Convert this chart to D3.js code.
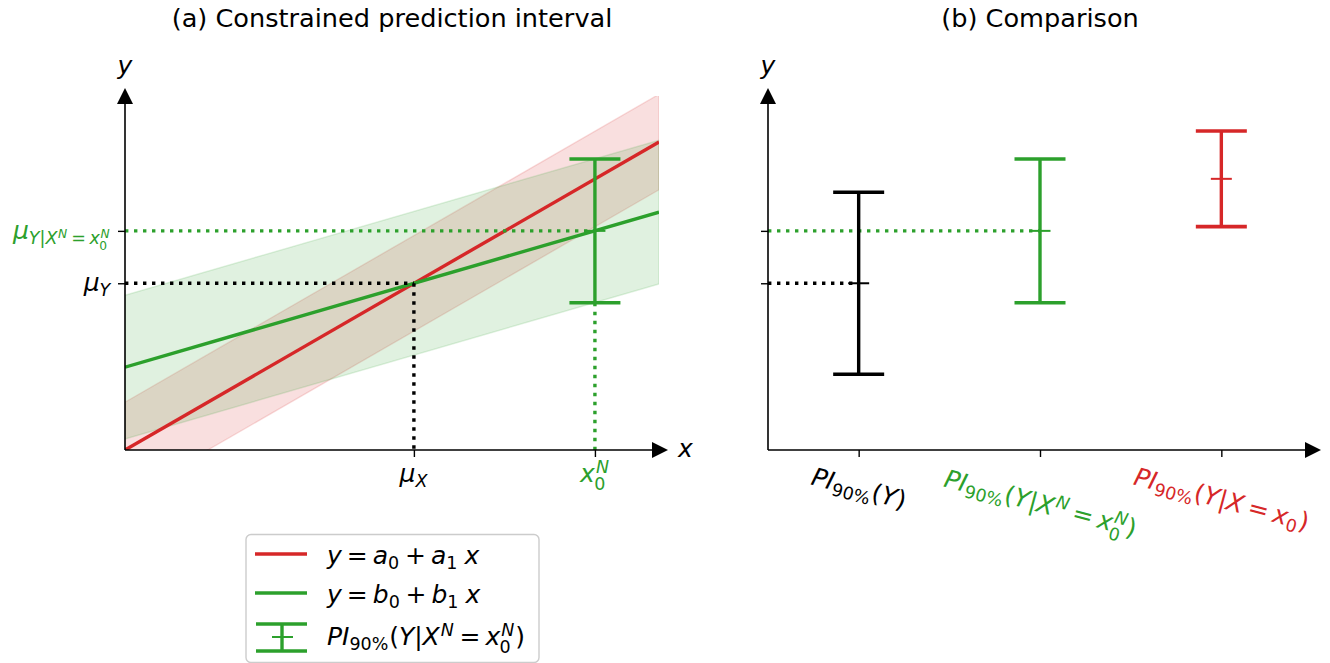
<!DOCTYPE html>
<html><head><meta charset="utf-8">
<script src="https://cdn.jsdelivr.net/npm/d3@7"></script>
<style>
body{margin:0;background:#fff}
svg{display:block}
text{font-family:"DejaVu Sans",sans-serif}
</style>
</head><body>
<svg id="c" width="1330" height="663"></svg>
<script>
const FS = 25;
const TITLE_FS = 25.6;
const RED = "#d62728", GREEN = "#2ca02c", BLACK = "#000000";

// ---------------- data ----------------
const lineX = [0, 10];
const redLineY = [0.0, 8.70];      // y = a0 + a1 x
const greenLineY = [2.34, 6.72];   // y = b0 + b1 x
const redBandHalf = [1.35, 1.35];
const greenBandHalf = [2.03, 2.03];
const markX = [5.41, 8.80];        // mu_X, x0^N
const markY = [4.71, 6.19];        // mu_Y, mu_{Y|X^N=x0^N}
const leftXTickLabels = ["\\mu_X", "x_0^N"];
const leftYTickLabels = ["\\mu_Y", "\\mu_{Y|X^N=x_0^N}"];
const cmpCats = [0, 1, 2];
const cmpCenters = [4.71, 6.19, 7.66];
const cmpHalf = [2.57, 2.03, 1.35];
const cmpColors = [BLACK, GREEN, RED];
const cmpLabels = ["PI_{90\\%}(Y)", "PI_{90\\%}(Y|X^N=x_0^N)", "PI_{90\\%}(Y|X=x_0)"];
const legendLabels = ["y=a_0+a_1\\ x", "y=b_0+b_1\\ x", "PI_{90\\%}(Y|X^N=x_0^N)"];
const titles = ["(a) Constrained prediction interval", "(b) Comparison"];

// ---------------- scales ----------------
const xA = d3.scaleLinear([0, 10], [125, 659]);
const yS = d3.scaleLinear([0, 10], [450, 96]);
const xB = d3.scaleLinear([-0.5, 2.5], [768, 1312]);

const svg = d3.select("#c");

// ---------------- mini math renderer ----------------
function parseTex(s) {
  let i = 0;
  function atom() {
    const c = s[i];
    if (c === "{") { i++; const g = seq("}"); i++; return { g }; }
    if (c === "\\") {
      i++;
      let name = "";
      while (i < s.length && /[a-zA-Z]/.test(s[i])) name += s[i++];
      if (!name) name = s[i++];
      if (name === "mu") return { ch: "\u03bc", it: true };
      if (name === "%") return { ch: "%", it: false };
      if (name === ",") return { sp: 0.17 };
      if (name === " ") return { sp: 0.25 };
      return { ch: name, it: false };
    }
    i++;
    if (/[a-zA-Z]/.test(c)) return { ch: c, it: true };
    if (c === "=" || c === "+") return { ch: c, it: false, op: true };
    return { ch: c, it: false };
  }
  function seq(end) {
    const out = [];
    while (i < s.length && s[i] !== end) {
      if (s[i] === " ") { i++; continue; }
      if (s[i] === "_" || s[i] === "^") {
        const k = s[i]; i++;
        const a = atom();
        const last = out[out.length - 1];
        if (k === "_") last.sub = a; else last.sup = a;
        continue;
      }
      out.push(atom());
    }
    return out;
  }
  return seq(undefined);
}

function renderMath(parent, tex, fs, color) {
  const g = parent.append("g").attr("fill", color);
  const nodes = parseTex(tex);
  function put(t, size, it, x, base) {
    const el = g.append("text").attr("font-size", size)
      .attr("font-style", it ? "italic" : "normal")
      .attr("x", x).attr("y", base).text(t);
    return el.node().getComputedTextLength();
  }
  function lay(list, x, base, size) {
    for (const n of list) {
      if (n.sp != null) { x += n.sp * size; continue; }
      if (n.op) x += 0.2 * size;
      if (n.g) x = lay(n.g, x, base, size);
      else x += put(n.ch, size, n.it, x, base);
      if (n.sub || n.sup) {
        const ss = size * 0.7;
        const both = n.sub && n.sup;
        let xe = x;
        if (n.sup) {
          const e = lay([n.sup], x + (n.it ? 0.04 * size : 0), base - 0.36 * size, ss);
          xe = Math.max(xe, e);
        }
        if (n.sub) {
          const e = lay([n.sub], x - (n.it && both ? 0.03 * size : 0), base + (both ? 0.33 : 0.2) * size, ss);
          xe = Math.max(xe, e);
        }
        x = xe + 0.03 * size;
      }
      if (n.op) x += 0.2 * size;
    }
    return x;
  }
  const w = lay(nodes, 0, 0, fs);
  return { g, w };
}

// ---------------- helpers ----------------
function dotted(g, x1, y1, x2, y2, color) {
  g.append("line").attr("x1", x1).attr("y1", y1).attr("x2", x2).attr("y2", y2)
    .attr("stroke", color).attr("stroke-width", 3.4).attr("stroke-dasharray", "3.4 5.6");
}
function errbar(g, cx, yc, half, color) {
  const top = yS(yc + half), bot = yS(yc - half), mid = yS(yc);
  g.append("line").attr("x1", cx).attr("x2", cx).attr("y1", top).attr("y2", bot)
    .attr("stroke", color).attr("stroke-width", 3.4);
  [top, bot].forEach(v => g.append("line").attr("x1", cx - 25.5).attr("x2", cx + 25.5)
    .attr("y1", v).attr("y2", v).attr("stroke", color).attr("stroke-width", 3.6));
  g.append("line").attr("x1", cx - 10.5).attr("x2", cx + 10.5).attr("y1", mid).attr("y2", mid)
    .attr("stroke", color).attr("stroke-width", 2);
}
function spines(g, x0, x1, yBot, yTop) {
  g.append("line").attr("x1", x0).attr("x2", x0).attr("y1", yBot).attr("y2", yTop + 6)
    .attr("stroke", "#000").attr("stroke-width", 1.6);
  g.append("line").attr("x1", x0).attr("x2", x1 - 6).attr("y1", yBot).attr("y2", yBot)
    .attr("stroke", "#000").attr("stroke-width", 1.6);
  g.append("path").attr("d", `M${x0},${yTop - 8} L${x0 - 8},${yTop + 8} L${x0 + 8},${yTop + 8} Z`).attr("fill", "#000");
  g.append("path").attr("d", `M${x1 + 9},${yBot} L${x1 - 7},${yBot - 8} L${x1 - 7},${yBot + 8} Z`).attr("fill", "#000");
}

// ---------------- panel (a) ----------------
const gA = svg.append("g");
svg.append("defs").append("clipPath").attr("id", "clipA").append("rect")
  .attr("x", 125).attr("y", 96).attr("width", 534).attr("height", 354);
const gAc = gA.append("g").attr("clip-path", "url(#clipA)");

const bandRed = lineX.map((x, i) => ({ x, lo: redLineY[i] - redBandHalf[i], hi: redLineY[i] + redBandHalf[i] }));
const bandGreen = lineX.map((x, i) => ({ x, lo: greenLineY[i] - greenBandHalf[i], hi: greenLineY[i] + greenBandHalf[i] }));
const area = d3.area().x(d => xA(d.x)).y0(d => yS(d.lo)).y1(d => yS(d.hi));
gAc.append("path").datum(bandRed).attr("d", area).attr("fill", RED).attr("fill-opacity", 0.15)
  .attr("stroke", RED).attr("stroke-opacity", 0.15).attr("stroke-width", 1.4);
gAc.append("path").datum(bandGreen).attr("d", area).attr("fill", GREEN).attr("fill-opacity", 0.15)
  .attr("stroke", GREEN).attr("stroke-opacity", 0.15).attr("stroke-width", 1.4);

const line = d3.line().x(d => xA(d[0])).y(d => yS(d[1]));
gAc.append("path").datum(lineX.map((x, i) => [x, redLineY[i]])).attr("d", line)
  .attr("stroke", RED).attr("stroke-width", 3.4).attr("fill", "none");
gAc.append("path").datum(lineX.map((x, i) => [x, greenLineY[i]])).attr("d", line)
  .attr("stroke", GREEN).attr("stroke-width", 3.4).attr("fill", "none");

// guide lines
dotted(gA, xA(0), yS(markY[0]), xA(markX[0]), yS(markY[0]), BLACK);
dotted(gA, xA(markX[0]), yS(markY[0]), xA(markX[0]), yS(0), BLACK);
dotted(gA, xA(0), yS(markY[1]), xA(markX[1]), yS(markY[1]), GREEN);
dotted(gA, xA(markX[1]), yS(markY[1] - greenBandHalf[1]), xA(markX[1]), yS(0), GREEN);

errbar(gA, xA(markX[1]), markY[1], greenBandHalf[1], GREEN);

// axes ticks
const axA_x = gA.append("g").attr("transform", "translate(0,450)")
  .call(d3.axisBottom(xA).tickValues(markX).tickSize(7).tickFormat(""));
const axA_y = gA.append("g").attr("transform", "translate(125,0)")
  .call(d3.axisLeft(yS).tickValues(markY).tickSize(7).tickFormat(""));
[axA_x, axA_y].forEach(a => { a.select(".domain").remove(); a.selectAll("line").attr("stroke-width", 1.4); });
spines(gA, 125, 659, 450, 96);

// tick labels
leftXTickLabels.forEach((t, i) => {
  const h = gA.append("g");
  const m = renderMath(h, t, FS, i === 0 ? BLACK : GREEN);
  h.attr("transform", `translate(${xA(markX[i]) - m.w / 2},482)`);
});
leftYTickLabels.forEach((t, i) => {
  const h = gA.append("g");
  const m = renderMath(h, t, FS, i === 0 ? BLACK : GREEN);
  h.attr("transform", `translate(${111 - m.w},${yS(markY[i]) + 8})`);
});
gA.append("text").attr("x", 125).attr("y", 74).attr("text-anchor", "middle")
  .attr("font-size", FS).attr("font-style", "italic").text("y");
gA.append("text").attr("x", 678).attr("y", 457)
  .attr("font-size", FS).attr("font-style", "italic").text("x");
gA.append("text").attr("x", 392).attr("y", 27).attr("text-anchor", "middle")
  .attr("font-size", TITLE_FS).text(titles[0]);

// legend
const gL = svg.append("g");
gL.append("rect").attr("x", 246).attr("y", 534.5).attr("width", 293).attr("height", 128)
  .attr("rx", 5).attr("fill", "#fff").attr("fill-opacity", 0.8)
  .attr("stroke", "#cccccc").attr("stroke-width", 1.4);
const legColors = [RED, GREEN, GREEN];
const legRowY = [554, 593, 637];
legendLabels.forEach((t, i) => {
  const yy = legRowY[i];
  if (i < 2) {
    gL.append("line").attr("x1", 255).attr("x2", 307).attr("y1", yy).attr("y2", yy)
      .attr("stroke", legColors[i]).attr("stroke-width", 3.4);
  } else {
    gL.append("line").attr("x1", 282).attr("x2", 282).attr("y1", yy - 13).attr("y2", yy + 14)
      .attr("stroke", GREEN).attr("stroke-width", 3.4);
    [yy - 13, yy + 14].forEach(v => gL.append("line").attr("x1", 256).attr("x2", 307)
      .attr("y1", v).attr("y2", v).attr("stroke", GREEN).attr("stroke-width", 3.6));
    gL.append("line").attr("x1", 272).attr("x2", 293).attr("y1", yy).attr("y2", yy)
      .attr("stroke", GREEN).attr("stroke-width", 2);
  }
  const h = gL.append("g");
  renderMath(h, t, FS, BLACK);
  h.attr("transform", `translate(327,${i < 2 ? yy + 10 : yy + 8})`);
});

// ---------------- panel (b) ----------------
const gB = svg.append("g");
dotted(gB, 768, yS(markY[0]), xB(0), yS(markY[0]), BLACK);
dotted(gB, 768, yS(markY[1]), xB(1), yS(markY[1]), GREEN);
cmpCats.forEach((c, i) => errbar(gB, xB(c), cmpCenters[i], cmpHalf[i], cmpColors[i]));

const axB_x = gB.append("g").attr("transform", "translate(0,450)")
  .call(d3.axisBottom(xB).tickValues(cmpCats).tickSize(7).tickFormat(""));
const axB_y = gB.append("g").attr("transform", "translate(768,0)")
  .call(d3.axisLeft(yS).tickValues(markY).tickSize(7).tickFormat(""));
[axB_x, axB_y].forEach(a => { a.select(".domain").remove(); a.selectAll("line").attr("stroke-width", 1.4); });
spines(gB, 768, 1312, 450, 96);

cmpLabels.forEach((t, i) => {
  const outer = gB.append("g");
  const inner = outer.append("g").attr("transform", "rotate(15)");
  renderMath(inner, t, FS, cmpColors[i]);
  const bb = outer.node().getBBox();
  outer.attr("transform", `translate(${xB(cmpCats[i]) - (bb.x + bb.width / 2)},${462 - bb.y})`);
});
gB.append("text").attr("x", 768).attr("y", 74).attr("text-anchor", "middle")
  .attr("font-size", FS).attr("font-style", "italic").text("y");
gB.append("text").attr("x", 1040).attr("y", 27).attr("text-anchor", "middle")
  .attr("font-size", TITLE_FS).text(titles[1]);
</script>
</body></html>
